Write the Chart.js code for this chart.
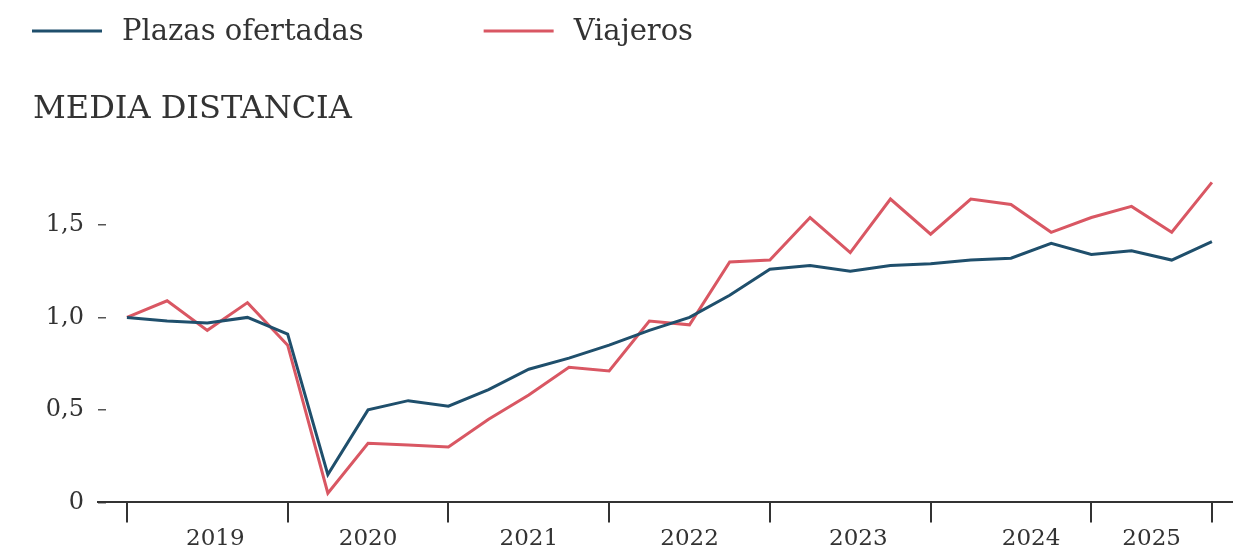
<!DOCTYPE html>
<html>
<head>
<meta charset="utf-8">
<script src="https://cdn.jsdelivr.net/npm/chart.js@4"></script>
<style>
  html, body { margin: 0; padding: 0; background: #fff; }
  #wrap { width: 1247px; height: 556px; }
</style>
</head>
<body>
<div id="wrap"><canvas id="chart"></canvas></div>
<script>
// Media distancia: index (2019 T1 = 1), quarterly
const quarters = [
    '2019T1', '2019T2', '2019T3', '2019T4',
    '2020T1', '2020T2', '2020T3', '2020T4',
    '2021T1', '2021T2', '2021T3', '2021T4',
    '2022T1', '2022T2', '2022T3', '2022T4',
    '2023T1', '2023T2', '2023T3', '2023T4',
    '2024T1', '2024T2', '2024T3', '2024T4',
    '2025T1', '2025T2', '2025T3', '2025T4'
];
const plazas = [1.00, 0.98, 0.97, 1.00, 0.91, 0.15, 0.50, 0.55, 0.52, 0.61, 0.72, 0.78, 0.85, 0.93,
                1.00, 1.12, 1.26, 1.28, 1.25, 1.28, 1.29, 1.31, 1.32, 1.40, 1.34, 1.36, 1.31, 1.41];
const viajeros = [1.00, 1.09, 0.93, 1.08, 0.85, 0.05, 0.32, 0.31, 0.30, 0.45, 0.58, 0.73, 0.71, 0.98,
                  0.96, 1.30, 1.31, 1.54, 1.35, 1.64, 1.45, 1.64, 1.61, 1.46, 1.54, 1.60, 1.46, 1.73];

// x axis: year separators (quarter index) and year labels
const yearBreaks = [0, 4, 8, 12, 16, 20, 24, 27];
const yearLabels = ['2019', '2020', '2021', '2022', '2023', '2024', '2025'];
const yearLabelPos = [2.2, 6, 10, 14, 18.2, 22.5, 25.5];
const yTicks = [0, 0.5, 1, 1.5];

const FONT = '"DejaVu Serif", serif';
const TEXT = '#333333';

const toPoints = arr => arr.map((v, i) => ({ x: i, y: v }));

// simple line-style legend drawn at the top left
const lineLegend = {
    id: 'lineLegend',
    afterDraw(chart) {
        const ctx = chart.ctx;
        ctx.save();
        ctx.font = '29px ' + FONT;
        ctx.textBaseline = 'middle';
        let x = 32;
        const y = 31;
        chart.data.datasets.forEach(ds => {
            ctx.strokeStyle = ds.borderColor;
            ctx.lineWidth = 3;
            ctx.beginPath();
            ctx.moveTo(x, y);
            ctx.lineTo(x + 70, y);
            ctx.stroke();
            ctx.fillStyle = TEXT;
            ctx.fillText(ds.label, x + 90, y + 1);
            x += 90 + ctx.measureText(ds.label).width + 120;
        });
        ctx.restore();
    }
};

const ctx = document.getElementById('chart').getContext('2d');
new Chart(ctx, {
    type: 'line',
    data: {
        labels: quarters,
        datasets: [{
            label: 'Plazas ofertadas',
            data: toPoints(plazas),
            borderColor: '#1f4f6c',
            backgroundColor: '#1f4f6c',
            borderWidth: 3,
            pointRadius: 0,
            tension: 0
        }, {
            label: 'Viajeros',
            data: toPoints(viajeros),
            borderColor: '#d95763',
            backgroundColor: '#d95763',
            borderWidth: 3,
            pointRadius: 0,
            tension: 0
        }]
    },
    options: {
        responsive: true,
        maintainAspectRatio: false,
        animation: false,
        layout: {
            padding: { left: 33, right: 15, top: 0, bottom: 0 }
        },
        plugins: {
            legend: { display: false },
            tooltip: { enabled: false },
            title: {
                display: true,
                text: 'MEDIA DISTANCIA',
                align: 'start',
                color: TEXT,
                font: { family: FONT, size: 32, weight: 'normal' },
                padding: { top: 90, bottom: 41 }
            }
        },
        scales: {
            x: {
                type: 'linear',
                min: -0.72,
                max: 27.5,
                afterBuildTicks: scale => {
                    const vals = yearBreaks.concat(yearLabelPos).sort((a, b) => a - b);
                    scale.ticks = vals.map(v => ({ value: v }));
                },
                ticks: {
                    autoSkip: false,
                    maxRotation: 0,
                    padding: 3,
                    color: TEXT,
                    font: { family: FONT, size: 23 },
                    callback: value => {
                        const i = yearLabelPos.indexOf(value);
                        return i >= 0 ? yearLabels[i] : '';
                    }
                },
                grid: {
                    drawOnChartArea: false,
                    drawTicks: true,
                    tickLength: 20,
                    lineWidth: 2,
                    color: c => (c.tick && yearBreaks.includes(c.tick.value)) ? '#333' : 'rgba(0,0,0,0)'
                },
                border: { display: true, color: '#333', width: 2 }
            },
            y: {
                min: 0,
                max: 1.8,
                afterBuildTicks: scale => {
                    scale.ticks = yTicks.map(v => ({ value: v }));
                },
                afterFit: scale => { scale.width = 65; },
                ticks: {
                    padding: 22,
                    color: TEXT,
                    font: { family: FONT, size: 24 },
                    callback: value => value === 0 ? '0' : value.toFixed(1).replace('.', ',')
                },
                grid: {
                    display: true,
                    drawOnChartArea: false,
                    drawTicks: true,
                    tickLength: -8,
                    lineWidth: 1.5,
                    color: '#555'
                },
                border: { display: false }
            }
        }
    },
    plugins: [lineLegend]
});
</script>
</body>
</html>
